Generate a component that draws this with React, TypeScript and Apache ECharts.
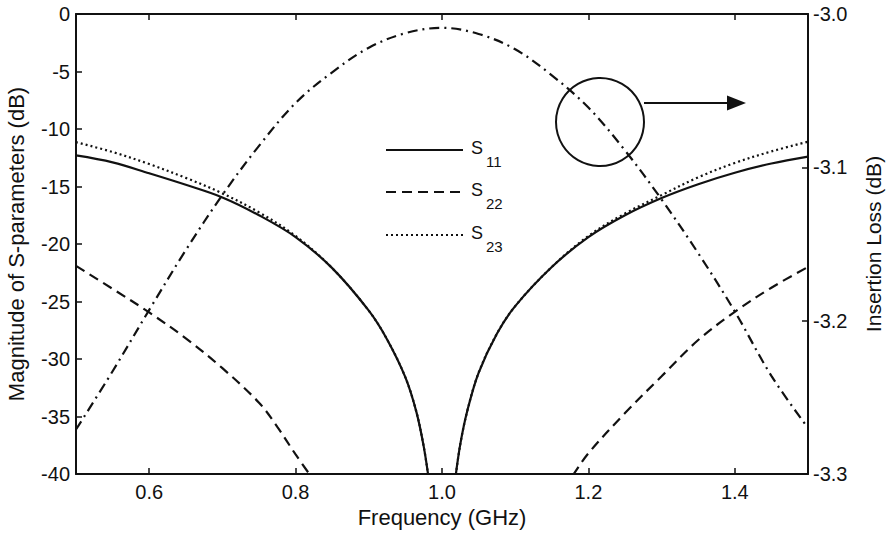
import React, { useEffect, useRef } from "react";
import * as echarts from "echarts";

// Insertion loss (right axis, dB) versus frequency (GHz)
const freqIL = [0.5, 0.55, 0.6, 0.65, 0.7, 0.75, 0.8, 0.85, 0.9, 0.95, 1.0, 1.05, 1.1, 1.15, 1.2, 1.25, 1.3, 1.35, 1.4, 1.45, 1.5];
const insertionLoss = [-3.271, -3.233, -3.193, -3.154, -3.118, -3.086, -3.058, -3.038, -3.022, -3.0125, -3.009, -3.013, -3.023, -3.040, -3.061, -3.089, -3.121, -3.156, -3.194, -3.236, -3.270];

// S11 and S23 share one frequency grid (left axis, dB); the null at 1.0 GHz is off-scale
const freqS = [0.5, 0.55, 0.6, 0.65, 0.7, 0.75, 0.8, 0.85, 0.9, 0.925, 0.95, 0.965, 0.975, 0.982, 1.0, 1.018, 1.025, 1.035, 1.05, 1.075, 1.1, 1.15, 1.2, 1.25, 1.3, 1.35, 1.4, 1.45, 1.5];
const s11 = [-12.3, -12.9, -13.85, -14.85, -15.95, -17.5, -19.4, -22.1, -25.8, -28.3, -31.6, -34.6, -37.6, -40.5, null, -40.5, -37.4, -34.4, -31.2, -27.8, -25.4, -22.0, -19.4, -17.5, -16.0, -14.8, -13.8, -13.0, -12.4];
const s23 = [-11.15, -12.0, -13.05, -14.25, -15.6, -17.25, -19.3, -22.1, -25.8, -28.3, -31.6, -34.6, -37.6, -40.5, null, -40.5, -37.4, -34.4, -31.2, -27.8, -25.4, -22.0, -19.3, -17.35, -15.75, -14.2, -12.95, -11.95, -11.1];

// S22: two branches, out of range around the centre frequency
const freqS22 = [0.5, 0.55, 0.6, 0.65, 0.7, 0.75, 0.775, 0.8, 0.821, 1.0, 1.179, 1.2, 1.25, 1.3, 1.35, 1.4, 1.45, 1.5];
const s22 = [-21.9, -23.9, -25.95, -28.2, -30.8, -33.8, -35.9, -38.3, -40.2, null, -40.1, -38.2, -34.7, -31.5, -28.35, -25.9, -23.8, -22.0];

const xTicks = [0.6, 0.8, 1.0, 1.2, 1.4];

const FONT = "'Liberation Sans', Arial, Helvetica, sans-serif";
const INK = "#111";

const pairs = (xs: number[], ys: (number | null)[]) => xs.map((x, i) => [x, ys[i]]);

export default function App() {
  const ref = useRef<HTMLDivElement>(null);

  useEffect(() => {
    if (!ref.current) return;
    const chart = echarts.init(ref.current, null, { renderer: "svg" });

    const axisLine = { show: true, onZero: false, lineStyle: { color: INK, width: 2 } };
    const tick = { show: true, inside: true, length: 6, lineStyle: { color: INK, width: 1.5 } };
    const label = { color: INK, fontSize: 20, fontFamily: FONT };
    const nameStyle = { color: INK, fontSize: 22, fontFamily: FONT };

    const legendRows = [
      { y: 150, sub: "11", dash: null as number[] | null },
      { y: 192, sub: "22", dash: [10, 6] },
      { y: 235, sub: "23", dash: [2, 3] },
    ];

    const legendGraphics: any[] = [];
    legendRows.forEach((r) => {
      legendGraphics.push({
        type: "line",
        shape: { x1: 386, y1: r.y, x2: 463, y2: r.y },
        style: { stroke: INK, lineWidth: 2.2, lineDash: r.dash },
      });
      legendGraphics.push({
        type: "text",
        x: 471,
        y: r.y - 2,
        style: { text: "S", fontSize: 18, fontFamily: FONT, fill: INK, align: "left", verticalAlign: "middle" },
      });
      legendGraphics.push({
        type: "text",
        x: 486,
        y: r.y + 11,
        style: { text: r.sub, fontSize: 15, fontFamily: FONT, fill: INK, align: "left", verticalAlign: "middle" },
      });
    });

    const curve = (name: string, x: number[], y: (number | null)[], axis: number, dash: any, z = 2) => ({
      name,
      type: "line",
      xAxisIndex: 0,
      yAxisIndex: axis,
      data: pairs(x, y),
      symbol: "none",
      smooth: 0.35,
      connectNulls: false,
      clip: true,
      lineStyle: { color: INK, width: 2.2, type: dash },
      z,
    });

    chart.setOption({
      animation: false,
      backgroundColor: "#ffffff",
      grid: { left: 76, right: 78, top: 14, bottom: 59, containLabel: false, outerBoundsMode: "none" },
      xAxis: [
        {
          type: "value",
          min: 0.5,
          max: 1.5,
          position: "bottom",
          axisLine,
          axisTick: { ...tick, customValues: xTicks },
          axisLabel: { ...label, margin: 8, customValues: xTicks, formatter: (v: number) => v.toFixed(1) },
          splitLine: { show: false },
          name: "Frequency (GHz)",
          nameLocation: "middle",
          nameGap: 28,
          nameTextStyle: nameStyle,
        },
        {
          type: "value",
          min: 0.5,
          max: 1.5,
          position: "top",
          axisLine,
          axisTick: { ...tick, customValues: xTicks },
          axisLabel: { show: false },
          splitLine: { show: false },
        },
      ],
      yAxis: [
        {
          type: "value",
          min: -40,
          max: 0,
          interval: 5,
          position: "left",
          axisLine,
          axisTick: tick,
          axisLabel: { ...label, margin: 6 },
          splitLine: { show: false },
          name: "Magnitude of S-parameters (dB)",
          nameLocation: "middle",
          nameRotate: 90,
          nameGap: 49,
          nameTextStyle: nameStyle,
        },
        {
          type: "value",
          min: -3.3,
          max: -3.0,
          interval: 0.1,
          position: "right",
          axisLine,
          axisTick: tick,
          axisLabel: { ...label, margin: 5, formatter: (v: number) => v.toFixed(1) },
          splitLine: { show: false },
          name: "Insertion Loss (dB)",
          nameLocation: "middle",
          nameRotate: 90,
          nameGap: 55,
          nameTextStyle: { ...nameStyle, fontSize: 21 },
        },
      ],
      series: [
        curve("S11", freqS, s11, 0, "solid", 3),
        curve("S22", freqS22, s22, 0, [10, 6]),
        curve("S23", freqS, s23, 0, [2, 3]),
        curve("Insertion Loss", freqIL, insertionLoss, 1, [10, 5, 2, 5]),
      ],
      graphic: [
        ...legendGraphics,
        {
          type: "circle",
          shape: { cx: 600, cy: 122, r: 44 },
          style: { fill: "none", stroke: INK, lineWidth: 2 },
        },
        {
          type: "line",
          shape: { x1: 644, y1: 103, x2: 730, y2: 103 },
          style: { stroke: INK, lineWidth: 2 },
        },
        {
          type: "polygon",
          shape: { points: [[727, 95.5], [746, 103], [727, 110.5]] },
          style: { fill: INK },
        },
      ],
    });

    return () => chart.dispose();
  }, []);

  return (
    <div
      ref={ref}
      style={{ position: "fixed", left: 0, top: 0, width: 886, height: 533, background: "#fff" }}
    />
  );
}
